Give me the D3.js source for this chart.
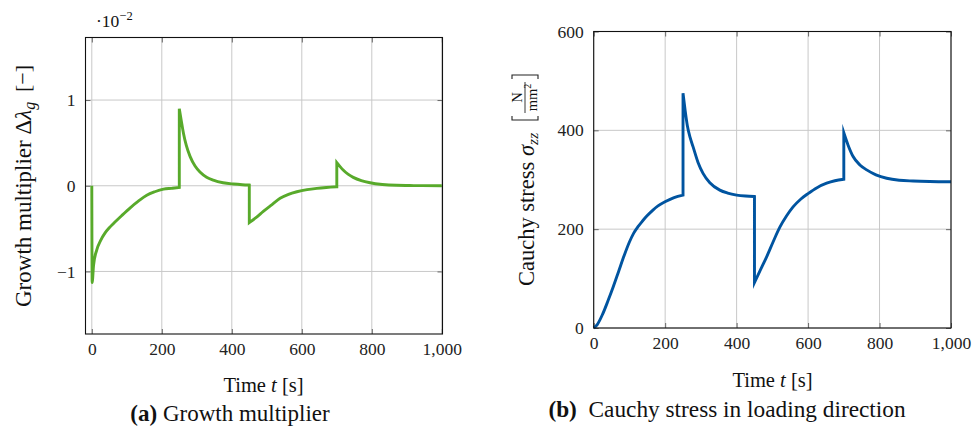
<!DOCTYPE html>
<html><head><meta charset="utf-8">
<script src="https://cdn.jsdelivr.net/npm/d3@7/dist/d3.min.js"></script>
<style>
html,body{margin:0;padding:0;background:#fff;}
svg text{font-family:"Liberation Serif","DejaVu Serif",serif;fill:#111;}
</style></head>
<body>
<svg id="chart" width="973" height="427"></svg>
<script>
// ---------- data ----------
const xTicks = [0, 200, 400, 600, 800, 1000];
const growthYTicks = [-1, 0, 1];
const stressYTicks = [0, 200, 400, 600];

const growthTime  = [0, 1, 5, 14, 25, 38, 50, 62, 85, 109, 133, 157, 180, 205, 228, 250,
                     250, 256, 262, 270, 281, 295, 309, 328, 347, 375, 405, 430, 450,
                     450, 470, 490, 515, 538, 562, 586, 615, 643, 670, 700,
                     700, 710, 719, 732, 747, 770, 795, 830, 871, 920, 1000];
const growthValue = [0, -1.13, -0.93, -0.75, -0.64, -0.55, -0.49, -0.44, -0.35, -0.26, -0.18, -0.11, -0.07, -0.04, -0.03, -0.02,
                     0.90, 0.75, 0.61, 0.47, 0.34, 0.23, 0.16, 0.10, 0.066, 0.035, 0.02, 0.012, 0.008,
                     -0.43, -0.37, -0.30, -0.22, -0.147, -0.10, -0.07, -0.045, -0.03, -0.02, -0.012,
                     0.27, 0.22, 0.18, 0.135, 0.098, 0.06, 0.035, 0.015, 0.005, 0.002, 0];

const stressTime  = [0, 10, 25, 40, 55, 70, 85, 100, 112, 124, 136, 148, 165, 180, 201, 225, 250,
                     250, 256, 262, 270, 278, 292, 306, 325, 353, 375, 400, 425, 450,
                     450, 465, 484, 502, 521, 540, 558, 580, 600, 625, 652, 675, 700,
                     700, 712, 726, 745, 764, 790, 820, 855, 894, 940, 1000];
const stressValue = [0, 7, 28, 55, 84, 115, 146, 174, 192, 205, 216, 226, 238, 247, 256, 264, 269,
                     475, 440, 410, 385, 367, 335, 313, 294, 279, 273, 269, 267, 266,
                     92, 115, 144, 174, 204, 227, 245, 261, 272, 284, 293, 298, 301,
                     395, 370, 347, 330, 320, 310, 303, 299, 297.5, 296.5, 296];

// ---------- drawing ----------
const svg = d3.select("#chart");
const fmt = d3.format(",");
const SERIF = "'Liberation Serif','DejaVu Serif',serif";

function panel(opts){
  const x = d3.scaleLinear().domain(opts.xDomain).range(opts.xRange);
  const y = d3.scaleLinear().domain(opts.yDomain).range(opts.yRange);
  const g = svg.append("g");
  const [x0,x1] = opts.xRange, [y0,y1] = opts.yRange; // y0 bottom, y1 top
  // grid
  g.append("g").selectAll("line").data(xTicks).join("line")
    .attr("x1", d=>x(d)).attr("x2", d=>x(d)).attr("y1", y1).attr("y2", y0)
    .attr("stroke", "#c8c8c8").attr("stroke-width", 1);
  g.append("g").selectAll("line").data(opts.yTicks).join("line")
    .attr("x1", x0).attr("x2", x1).attr("y1", d=>y(d)).attr("y2", d=>y(d))
    .attr("stroke", "#c8c8c8").attr("stroke-width", 1);
  // axes (inward ticks, labels)
  const axB = g.append("g").attr("transform", `translate(0,${y0})`)
    .call(d3.axisBottom(x).tickValues(xTicks).tickSize(-5).tickPadding(opts.xPad).tickFormat(fmt));
  const axT = g.append("g").attr("transform", `translate(0,${y1})`)
    .call(d3.axisTop(x).tickValues(xTicks).tickSize(-5).tickFormat(""));
  const axL = g.append("g").attr("transform", `translate(${x0},0)`)
    .call(d3.axisLeft(y).tickValues(opts.yTicks).tickSize(-5).tickPadding(opts.yPad).tickFormat(d=>d<0?"\u2212"+Math.abs(d):d));
  const axR = g.append("g").attr("transform", `translate(${x1},0)`)
    .call(d3.axisRight(y).tickValues(opts.yTicks).tickSize(-5).tickFormat(""));
  [axB,axT,axL,axR].forEach(a=>{
    a.attr("font-family", null);
    a.select(".domain").remove();
    a.selectAll(".tick line").attr("stroke","#666");
    a.selectAll("text").style("font-family",SERIF).style("font-size","17.5px").style("fill","#222");
  });
  // data line: smooth within continuous pieces, straight vertical jumps between them
  const pts = opts.t.map((t,i)=>[t, opts.v[i]]);
  const pieces = [];
  pts.forEach((p,i)=>{
    if (i===0 || p[0]===pts[i-1][0]) pieces.push([p]); else pieces[pieces.length-1].push(p);
  });
  const ln = d3.line().x(d=>x(d[0])).y(d=>y(d[1])).curve(d3.curveMonotoneX);
  const dStr = pieces.map((pc,i)=>{ const s = ln(pc); return i===0 ? s : "L" + s.slice(1); }).join("");
  g.append("path").attr("d", dStr)
    .attr("fill","none").attr("stroke", opts.color).attr("stroke-width", 2.9)
    .attr("stroke-linejoin","miter").attr("stroke-miterlimit",10);
  // frame
  g.append("rect").attr("x", x0).attr("y", y1).attr("width", x1-x0).attr("height", y0-y1)
    .attr("fill","none").attr("stroke","#111").attr("stroke-width",1.1);
  return {x,y,g};
}

const A = panel({xDomain:[-18,1002], xRange:[85.5,442.5], yDomain:[-1.73,1.73], yRange:[334,37.5],
  yTicks:growthYTicks, t:growthTime, v:growthValue, color:"#58aa2b", xPad:9, yPad:10});
const B = panel({xDomain:[0,1000], xRange:[593.7,951], yDomain:[0,600], yRange:[328,31.5],
  yTicks:stressYTicks, t:stressTime, v:stressValue, color:"#0054a0", xPad:9, yPad:10});

// ---------- labels ----------
const sc = svg.append("text").attr("x", 96).attr("y", 27).attr("font-size", 17.5);
sc.append("tspan").text("\u00b710");
sc.append("tspan").attr("dy",-7).attr("font-size",12.5).text("\u22122");

function timeLabel(cx, by){
  const t = svg.append("text").attr("x", cx).attr("y", by).attr("text-anchor","middle").attr("font-size",20.5);
  t.append("tspan").text("Time ");
  t.append("tspan").attr("font-style","italic").text("t");
  t.append("tspan").text(" [s]");
}
timeLabel(263.5, 392);
timeLabel(772.5, 386.5);

// left y label
const gl = svg.append("g").attr("transform","translate(31,307) rotate(-90)");
const tl = gl.append("text").attr("x",0).attr("y",0).attr("font-size",23);
tl.append("tspan").text("Growth multiplier \u0394");
tl.append("tspan").attr("font-style","italic").text("\u03bb");
tl.append("tspan").attr("font-style","italic").attr("font-size",16).attr("dy",4).text("g");
gl.append("text").attr("x",215).attr("y",-1).attr("font-size",22).text("[\u2212]");

// right y label
const gr = svg.append("g").attr("transform","translate(534,286) rotate(-90)");
const tr = gr.append("text").attr("x",0).attr("y",0).attr("font-size",22.5);
tr.append("tspan").text("Cauchy stress ");
tr.append("tspan").attr("font-style","italic").text("\u03c3");
tr.append("tspan").attr("font-style","italic").attr("font-size",15.5).attr("dy",4).text("zz");
// bracketed fraction N / mm^2
const bx0 = 166, bx1 = 211, byTop = -22, byBot = 4;
gr.append("path").attr("d",`M${bx0+4},${byTop}H${bx0}V${byBot}H${bx0+4}M${bx1-4},${byTop}H${bx1}V${byBot}H${bx1-4}`)
  .attr("fill","none").attr("stroke","#222").attr("stroke-width",1.1);
gr.append("line").attr("x1",173).attr("x2",204).attr("y1",-9).attr("y2",-9).attr("stroke","#222").attr("stroke-width",0.9);
gr.append("text").attr("x",188.5).attr("y",-12).attr("text-anchor","middle").attr("font-size",14.5).text("N");
const dn = gr.append("text").attr("x",188.5).attr("y",2.5).attr("text-anchor","middle").attr("font-size",14.5);
dn.append("tspan").text("mm");
dn.append("tspan").attr("dy",-6).attr("font-size",10).text("2");

// captions
const ca = svg.append("text").attr("x",230).attr("y",421).attr("text-anchor","middle").attr("font-size",23);
ca.append("tspan").attr("font-weight","bold").text("(a)");
ca.append("tspan").text(" Growth multiplier");
const cb = svg.append("text").attr("x",727).attr("y",417).attr("text-anchor","middle").attr("font-size",23.3);
cb.append("tspan").attr("font-weight","bold").text("(b)");
cb.append("tspan").text("\u2002Cauchy stress in loading direction");
</script>
</body></html>
